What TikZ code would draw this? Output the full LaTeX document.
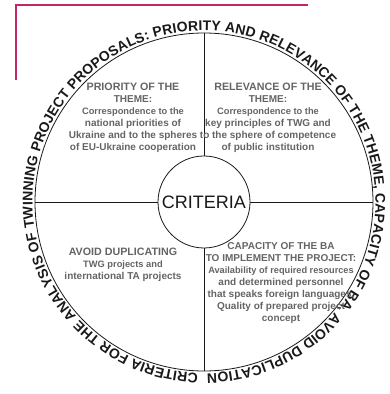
\documentclass[tikz,border=0pt]{standalone}
\usepackage{fontspec}
\setmainfont{Liberation Sans}
\usetikzlibrary{decorations.text}
\definecolor{accent}{RGB}{192,38,104}
\definecolor{bodygray}{RGB}{100,100,100}
\definecolor{ink}{RGB}{25,25,25}
\newcommand{\headsize}{\fontsize{10.7}{12}\selectfont}
\newcommand{\bodysize}{\fontsize{9.3}{12}\selectfont}
\newcommand{\caphead}{\fontsize{10}{11.3}\selectfont}
\newcommand{\capbody}{\fontsize{9.2}{11.3}\selectfont}
\begin{document}
\begin{tikzpicture}[x=1pt,y=1pt,
  ring/.style={draw=ink,line width=0.8pt},
  divider/.style={draw=ink,line width=0.8pt},
  bar/.style={draw=accent,line width=2pt},
  quadtext/.style={text=bodygray,align=center,font=\bfseries,inner sep=0pt},
  hubtext/.style={circle,draw=ink,line width=0.8pt,fill=white,minimum size=92pt,inner sep=0pt,
    text=ink,font=\fontsize{18}{18}\selectfont}]
\useasboundingbox (0,0) rectangle (390,394);
% corner bracket
\coordinate (barL) at (16,314);
\coordinate (barC) at (16,388.5);
\coordinate (barR) at (308,388.5);
\draw[bar] (barL) -- (barC) -- (barR);
% main circle and dividers
\coordinate (C) at (204,192);
\draw[ring] (C) circle[radius=169pt];
\coordinate (top) at (204,361);
\coordinate (bot) at (204,23);
\coordinate (lft) at (35,192);
\coordinate (rgt) at (373,192);
\draw[divider] (top) -- (bot);
\draw[divider] (lft) -- (rgt);
\node[hubtext] (hub) at (C) {CRITERIA};
% title running round the circle
\path[decorate,decoration={text along path,text align=fit to path,
  text={|\bfseries\fontsize{14}{14}\selectfont\color{ink}|CRITERIA FOR THE ANALYSIS OF TWINNING PROJECT PROPOSALS: PRIORITY AND RELEVANCE OF THE THEME, CAPACITY OF BA, AVOID DUPLICATION}}]
  ([shift={(268:171.5pt)}]C) arc[start angle=268,end angle=-89,radius=171.5pt];
% quadrant texts
\node[quadtext] (prio) at (133,276) {\headsize PRIORITY OF THE\\THEME:\\\bodysize Correspondence to the\\national priorities of\\Ukraine and to the spheres\\of EU-Ukraine cooperation};
\node[quadtext] (rel) at (268,276) {\headsize RELEVANCE OF THE\\THEME:\\\bodysize Correspondence to the\\key principles of TWG and\\to the sphere of competence\\of public institution};
\node[quadtext] (dup) at (123,129.5) {\headsize AVOID DUPLICATING\\\bodysize TWG projects and\\international TA projects};
\node[quadtext] (cap) at (281,111) {\caphead CAPACITY OF THE BA\\TO IMPLEMENT THE PROJECT:\\\capbody Availability of required resources\\and determined personnel\\that speaks foreign languages,\\Quality of prepared project\\concept};
\end{tikzpicture}
\end{document}
